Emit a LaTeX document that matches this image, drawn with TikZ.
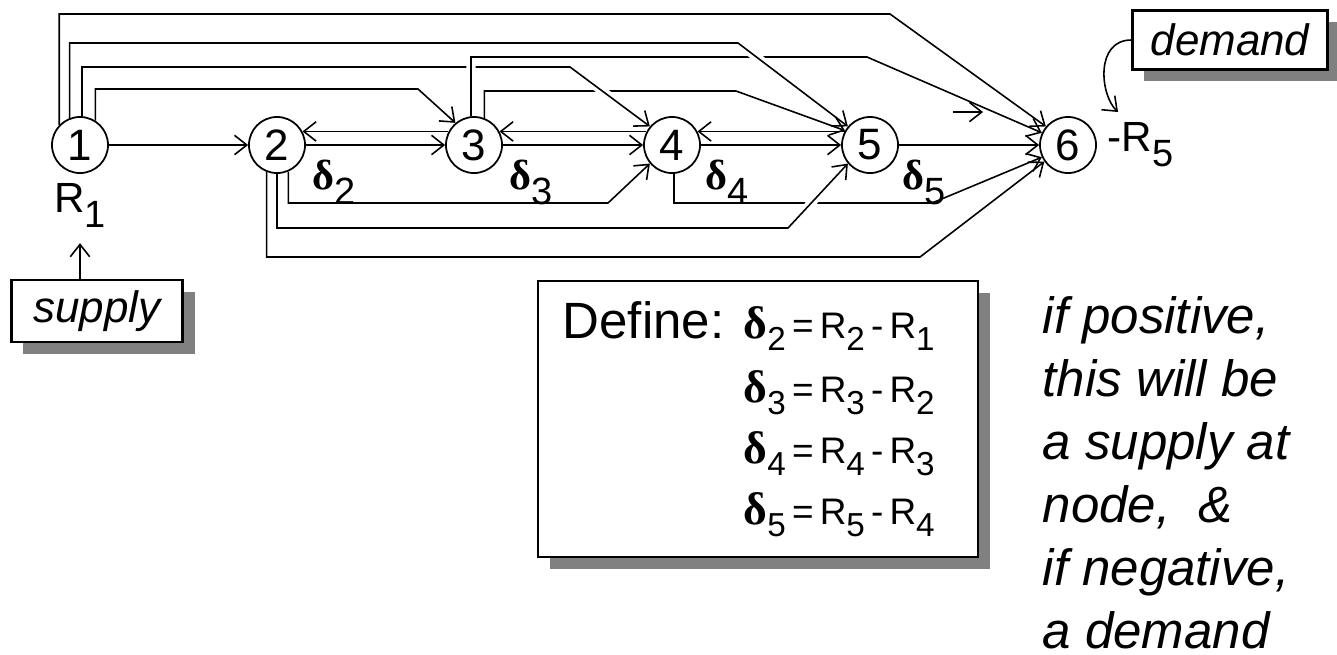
\documentclass[tikz,border=0pt]{standalone}
\usepackage{fontspec}
\setmainfont{Liberation Sans}
\newfontfamily\grkfont{Liberation Serif}
\usepackage{graphicx}
\usetikzlibrary{arrows.meta,positioning,calc,shadows}

\newcommand{\dn}[1]{\raisebox{-0.35em}{\scalebox{0.9}{#1}}}
\newcommand{\dlt}{{\grkfont\bfseries δ}}
\newcommand{\Dlt}{{\fontsize{13}{14}\selectfont\grkfont\bfseries δ}}

\begin{document}
\begin{tikzpicture}[x=0.01cm,y=-0.01cm,
  rnode/.style={draw,circle,line width=0.5pt,minimum size=0.56cm,inner sep=0pt,
                font=\fontsize{12.5}{13}\selectfont},
  arr/.style={-{Straight Barb[length=3.5pt,width=5.5pt]},line width=0.45pt},
  bridge/.style={preaction={draw=white,line width=2.6pt,arrows=-,
                 shorten <=0.3cm,shorten >=0.3cm}},
  lbl/.style={inner sep=0pt,font=\fontsize{12}{13}\selectfont},
  dlbl/.style={inner sep=0pt,font=\fontsize{12}{13}\selectfont},
  shbox/.style={draw,fill=white,line width=0.7pt,inner sep=0pt,
                general shadow={fill=black!50,shadow xshift=3.4pt,shadow yshift=-3.4pt}},
  tag/.style={shbox,font=\fontsize{12.5}{14}\selectfont\itshape},
  deftxt/.style={inner sep=0pt,font=\fontsize{14.5}{16}\selectfont},
  eqtxt/.style={inner sep=0pt,font=\fontsize{10.5}{12}\selectfont},
  note/.style={inner sep=0pt,align=left,font=\fontsize{14.5}{17.9}\selectfont\itshape}
]
\useasboundingbox (0,0) rectangle (1337,654);

\node[rnode] (n1) at (80,145)   {1};
\node[rnode] (n2) at (277,145)  {2};
\node[rnode] (n3) at (474,145)  {3};
\node[rnode] (n4) at (672,145)  {4};
\node[rnode] (n5) at (870,145)  {5};
\node[rnode] (n6) at (1068,145) {6};

\node[lbl,below=0.09cm of n1] (r1) {R\dn{1}};
\node[lbl,right=0.1cm of n6] (r5) {-R\dn{5}};
\node[dlbl,below right=-0.06cm and 0.14cm of n2] (d2) {\dlt\dn{2}};
\node[dlbl,below right=-0.06cm and 0.14cm of n3] (d3) {\dlt\dn{3}};
\node[dlbl,below right=-0.06cm and 0.12cm of n4] (d4) {\dlt\dn{4}};
\node[dlbl,below right=-0.06cm and 0.11cm of n5] (d5) {\dlt\dn{5}};

% straight arcs
\draw[arr] (n1) -- (n2);
\draw[arr] (n2) -- (n3);
\draw[arr] (n3.152) -- (n2.28);
\draw[arr] (n3) -- (n4);
\draw[arr] (n4.152) -- (n3.28);
\draw[arr] (n4) -- (n5);
\draw[arr] (n5.152) -- (n4.28);
\draw[arr] (n5) -- (n6);

% arcs over the top
\draw[arr] (n3.69) |- (736,91) -- (n5.150);
\draw[arr,bridge] (n1.86) |- (570,67) -- (n4.140);
\draw[arr,bridge] (n3.96) |- (867,57) -- (n6.155);
\draw[arr,bridge] (n1.111) |- (738,43) -- (n5.140);
\draw[arr] (n1.136) |- (890,14) -- (n6.140);
\draw[arr] (n1.58) |- (418,89) -- (n3.130);
\coordinate (s1) at (953,112);
\coordinate (s2) at (983,112);
\draw[arr] (s1) -- (s2);

% arcs underneath
\draw[arr] (n4.-86) |- (932,203) -- (n6.205);
\draw[arr] (n2.-67) |- (608,203) -- (n4.220);
\draw[arr,bridge] (n2.-90) |- (788,228) -- (n5.220);
\draw[arr] (n2.-111) |- (920,257) -- (n6.215);

% supply and demand
\node[tag,minimum width=1.71cm,minimum height=0.62cm] (sup) at (97,311) {supply};
\draw[arr,shorten >=0.15cm] (sup.north -| r1.south) -- (r1.south);
\node[tag,minimum width=1.95cm,minimum height=0.59cm] (dem) at (1230,40) {demand};
\coordinate (dtip) at (1118,112);
\draw[arr] (dem.west) .. controls (1095,40) and (1100,95) .. (dtip);

% definitions
\node[shbox,minimum width=4.4cm,minimum height=2.76cm] (defbox) at (758,419) {};
\node[deftxt,anchor=base west] (def) at (562,338) {Define:};
\node[eqtxt,anchor=base west] (e2) at (743,338) {\Dlt\dn{2}\,=\,R\dn{2}\,-\,R\dn{1}};
\node[eqtxt,anchor=base west] (e3) at (743,402) {\Dlt\dn{3}\,=\,R\dn{3}\,-\,R\dn{2}};
\node[eqtxt,anchor=base west] (e4) at (743,463) {\Dlt\dn{4}\,=\,R\dn{4}\,-\,R\dn{3}};
\node[eqtxt,anchor=base west] (e5) at (743,524) {\Dlt\dn{5}\,=\,R\dn{5}\,-\,R\dn{4}};

\node[note,anchor=north west] (rem) at (1042,296)
  {if positive,\\this will be\\a supply at\\node,\ \ \&\\if negative,\\a demand};
\end{tikzpicture}
\end{document}
